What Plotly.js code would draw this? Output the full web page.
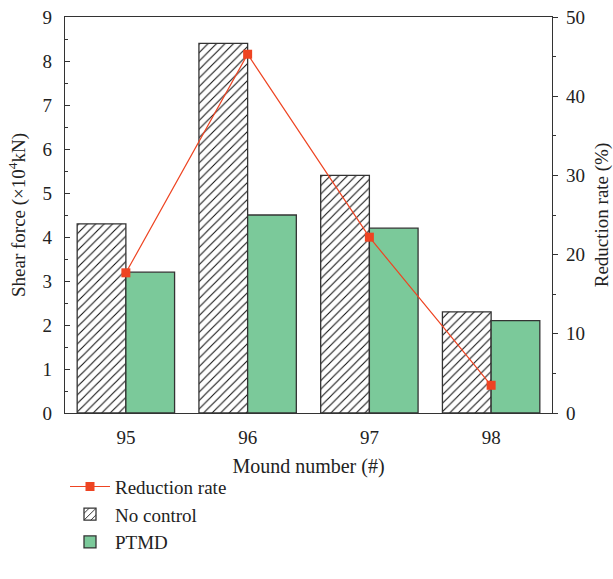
<!DOCTYPE html>
<html>
<head>
<meta charset="utf-8">
<script src="https://cdn.plot.ly/plotly-3.0.1.min.js"></script>
<style>html,body{margin:0;padding:0;background:#fff;}#chart{width:613px;height:579px;}</style>
</head>
<body>
<div id="chart"></div>
<script>
const categories = ["95", "96", "97", "98"];
const noControl = [4.3, 8.4, 5.4, 2.3];
const ptmd = [3.2, 4.5, 4.2, 2.1];
const reductionRate = [17.7, 45.3, 22.2, 3.5];
const leftTicks = [0, 1, 2, 3, 4, 5, 6, 7, 8, 9];
const rightTicks = [0, 10, 20, 30, 40, 50];

const fam = "Liberation Serif, Times New Roman, serif";
const txt = "#222";

const traces = [
  {
    type: "scatter", mode: "lines+markers", name: "Reduction rate",
    x: categories, y: reductionRate, yaxis: "y2",
    line: {color: "#EE4422", width: 1.2},
    marker: {color: "#EE4422", symbol: "square", size: 9},
    cliponaxis: false
  },
  {
    type: "bar", name: "No control", x: categories, y: noControl,
    marker: {color: "white", line: {color: "#333", width: 1.3},
      pattern: {shape: "/", fgcolor: "#111", bgcolor: "white", size: 6, solidity: 0.18}}
  },
  {
    type: "bar", name: "PTMD", x: categories, y: ptmd,
    marker: {color: "#7BC99A", line: {color: "#333", width: 1.3}}
  }
];

const layout = {
  width: 613, height: 579,
  margin: {l: 65, r: 61, t: 17, b: 166, autoexpand: false},
  paper_bgcolor: "white", plot_bgcolor: "white",
  font: {family: fam, color: txt, size: 19},
  barmode: "group", bargap: 0.2, bargroupgap: 0,
  showlegend: true,
  legend: {x: 0.0, y: -0.138, xanchor: "left", yanchor: "top", orientation: "v",
    traceorder: "normal", font: {family: fam, size: 19, color: txt},
    bgcolor: "rgba(0,0,0,0)", tracegroupgap: 0, itemwidth: 40},
  xaxis: {
    type: "category", range: [-0.5, 3.5], automargin: false,
    showline: true, linecolor: "#333", linewidth: 1.3, mirror: true,
    ticks: "", showgrid: false, zeroline: false,
    ticklabelstandoff: 7,
    tickfont: {family: fam, size: 19, color: txt},
    title: {text: "Mound number (#)", font: {family: fam, size: 20, color: txt}, standoff: 12}
  },
  yaxis: {
    range: [0, 9], tickvals: leftTicks, ticktext: leftTicks.map(String), automargin: false,
    showline: true, linecolor: "#333", linewidth: 1.3, mirror: false,
    ticks: "inside", ticklen: 5, tickcolor: "#333",
    minor: {dtick: 0.5, ticks: "inside", ticklen: 3, tickcolor: "#333"},
    showgrid: false, zeroline: false,
    ticklabelstandoff: 8,
    tickfont: {family: fam, size: 19, color: txt},
    title: {text: "Shear force (×10<sup>4</sup>kN)", font: {family: fam, size: 19, color: txt}, standoff: 11}
  },
  yaxis2: {
    overlaying: "y", side: "right", range: [0, 50], automargin: false,
    tickvals: rightTicks, ticktext: rightTicks.map(String),
    showline: true, linecolor: "#333", linewidth: 1.3,
    ticks: "outside", ticklen: 5, tickcolor: "#333",
    minor: {dtick: 5, ticks: "outside", ticklen: 3, tickcolor: "#333"},
    showgrid: false, zeroline: false,
    ticklabelstandoff: 4,
    tickfont: {family: fam, size: 19, color: txt},
    title: {text: "Reduction rate (%)", font: {family: fam, size: 19, color: txt}, standoff: 12}
  }
};

Plotly.newPlot("chart", traces, layout, {displayModeBar: false, staticPlot: true});
</script>
</body>
</html>
